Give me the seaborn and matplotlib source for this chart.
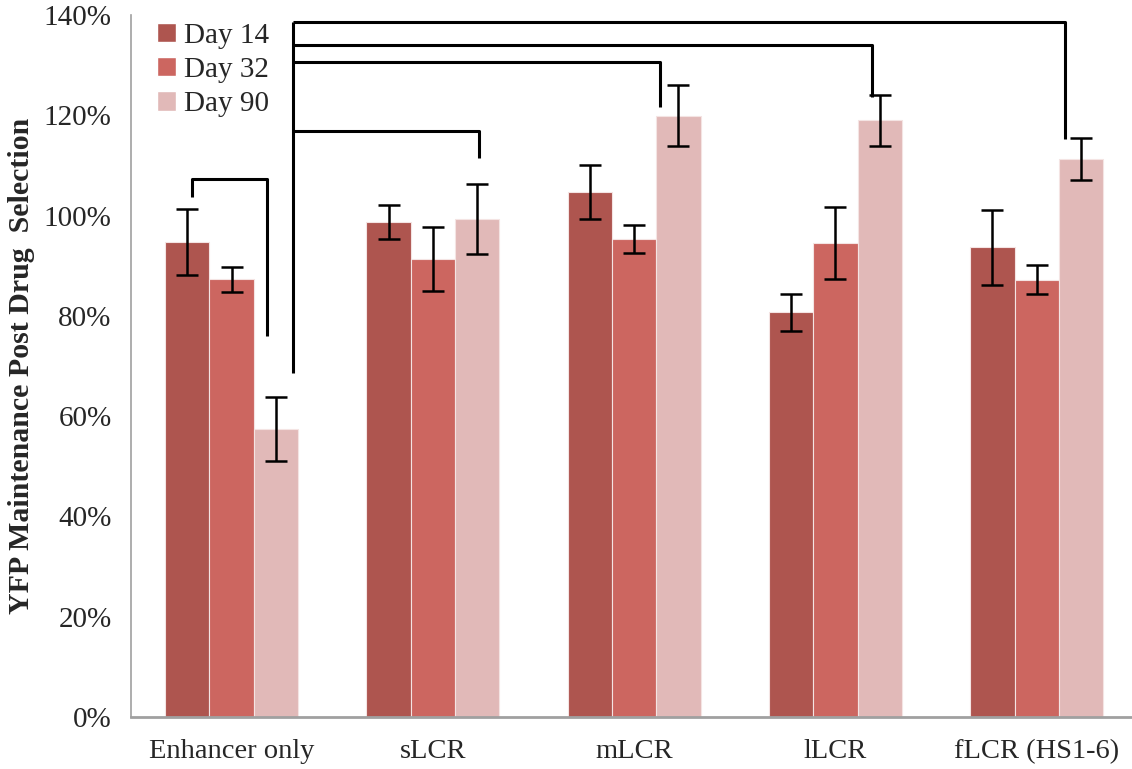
import numpy as np
import pandas as pd
import matplotlib
matplotlib.use("Agg")
import matplotlib.pyplot as plt
import matplotlib.patches as mpatches
import seaborn as sns

# Constructs and time points
constructs = ["Enhancer only", "sLCR", "mLCR", "lLCR", "fLCR (HS1-6)"]
days = ["Day 14", "Day 32", "Day 90"]

# Mean YFP maintenance (%) per construct, one list per day
day14 = [94.8, 98.7, 104.7, 80.7, 93.7]
day32 = [87.3, 91.3, 95.3, 94.5, 87.2]
day90 = [57.4, 99.3, 119.9, 119.0, 111.3]

# Error bar half-widths (%)
err14 = [6.6, 3.4, 5.3, 3.7, 7.5]
err32 = [2.5, 6.4, 2.8, 7.2, 2.9]
err90 = [6.4, 7.0, 6.1, 5.1, 4.2]

colors = ["#AE554F", "#CC6660", "#E1B9B8"]

df = pd.DataFrame({
    "construct": constructs * 3,
    "day": sum([[d] * len(constructs) for d in days], []),
    "value": day14 + day32 + day90,
    "err": err14 + err32 + err90,
})

sns.set_style("white")
plt.rcParams["font.family"] = ["Liberation Serif", "DejaVu Serif"]

fig = plt.figure(figsize=(11.32, 7.69), dpi=100)
ax = fig.add_axes([0.1157, 0.0676, 0.889, 0.9129])

sns.barplot(data=df, x="construct", y="value", hue="day", order=constructs,
            hue_order=days, palette=colors, errorbar=None, width=0.66,
            edgecolor="#F4E4E3", linewidth=0.8, saturation=1, ax=ax, legend=False)

# Error bars centred on each bar
errs = [err14, err32, err90]
for cont, e in zip(ax.containers, errs):
    xs = [p.get_x() + p.get_width() / 2 for p in cont.patches]
    ys = [p.get_height() for p in cont.patches]
    ax.errorbar(xs, ys, yerr=e, fmt="none", ecolor="black", elinewidth=1.8,
                capsize=8, capthick=1.8, zorder=5)

ax.set_ylim(0, 140)
ax.set_xlim(-0.5, 4.5)
ax.set_yticks(np.arange(0, 141, 20))
ax.set_yticklabels([f"{v}%" for v in range(0, 141, 20)])

# Category separators as minor ticks on the category axis
ax.set_xticks(np.arange(-0.5, 4.6, 1.0), minor=True)
ax.tick_params(axis="x", which="minor", length=8, width=1, color="#A0A0A0", direction="out")
ax.tick_params(axis="x", which="major", length=0, pad=16, labelsize=20.5)
ax.tick_params(axis="y", which="major", length=8, width=1, color="#A0A0A0",
               direction="out", labelsize=21, pad=6)

for side in ["top", "right"]:
    ax.spines[side].set_visible(False)
for side in ["left", "bottom"]:
    ax.spines[side].set_color("#A0A0A0")
    ax.spines[side].set_linewidth(1.2)
ax.spines["bottom"].set_linewidth(2)

ax.set_xlabel("")
ax.set_ylabel("YFP Maintenance Post Drug  Selection", fontsize=21.5,
              fontweight="bold", labelpad=6)

# Significance brackets
lw = 2.2
def line(xs, ys):
    ax.plot(xs, ys, color="black", lw=lw, solid_capstyle="butt", clip_on=False, zorder=6)

line([-0.199, -0.199, 0.175, 0.175], [103.8, 107.2, 107.2, 76.0])
hub_x = 0.306
line([hub_x, hub_x], [68.6, 138.6])
line([hub_x, 1.23, 1.23], [116.9, 116.9, 111.4])
line([hub_x, 2.13, 2.13], [130.6, 130.6, 121.7])
line([hub_x, 3.18, 3.18], [134.0, 134.0, 123.7])
line([hub_x, 4.14, 4.14], [138.6, 138.6, 115.3])

handles = [mpatches.Patch(facecolor=c, label=d) for c, d in zip(colors, days)]
ax.legend(handles=handles, loc="upper left", bbox_to_anchor=(0.006, 1.018),
          frameon=False, fontsize=21, handlelength=0.65, handleheight=0.65,
          handletextpad=0.25, labelspacing=0.28, borderaxespad=0.3)

fig.savefig("out.png", dpi=100)
